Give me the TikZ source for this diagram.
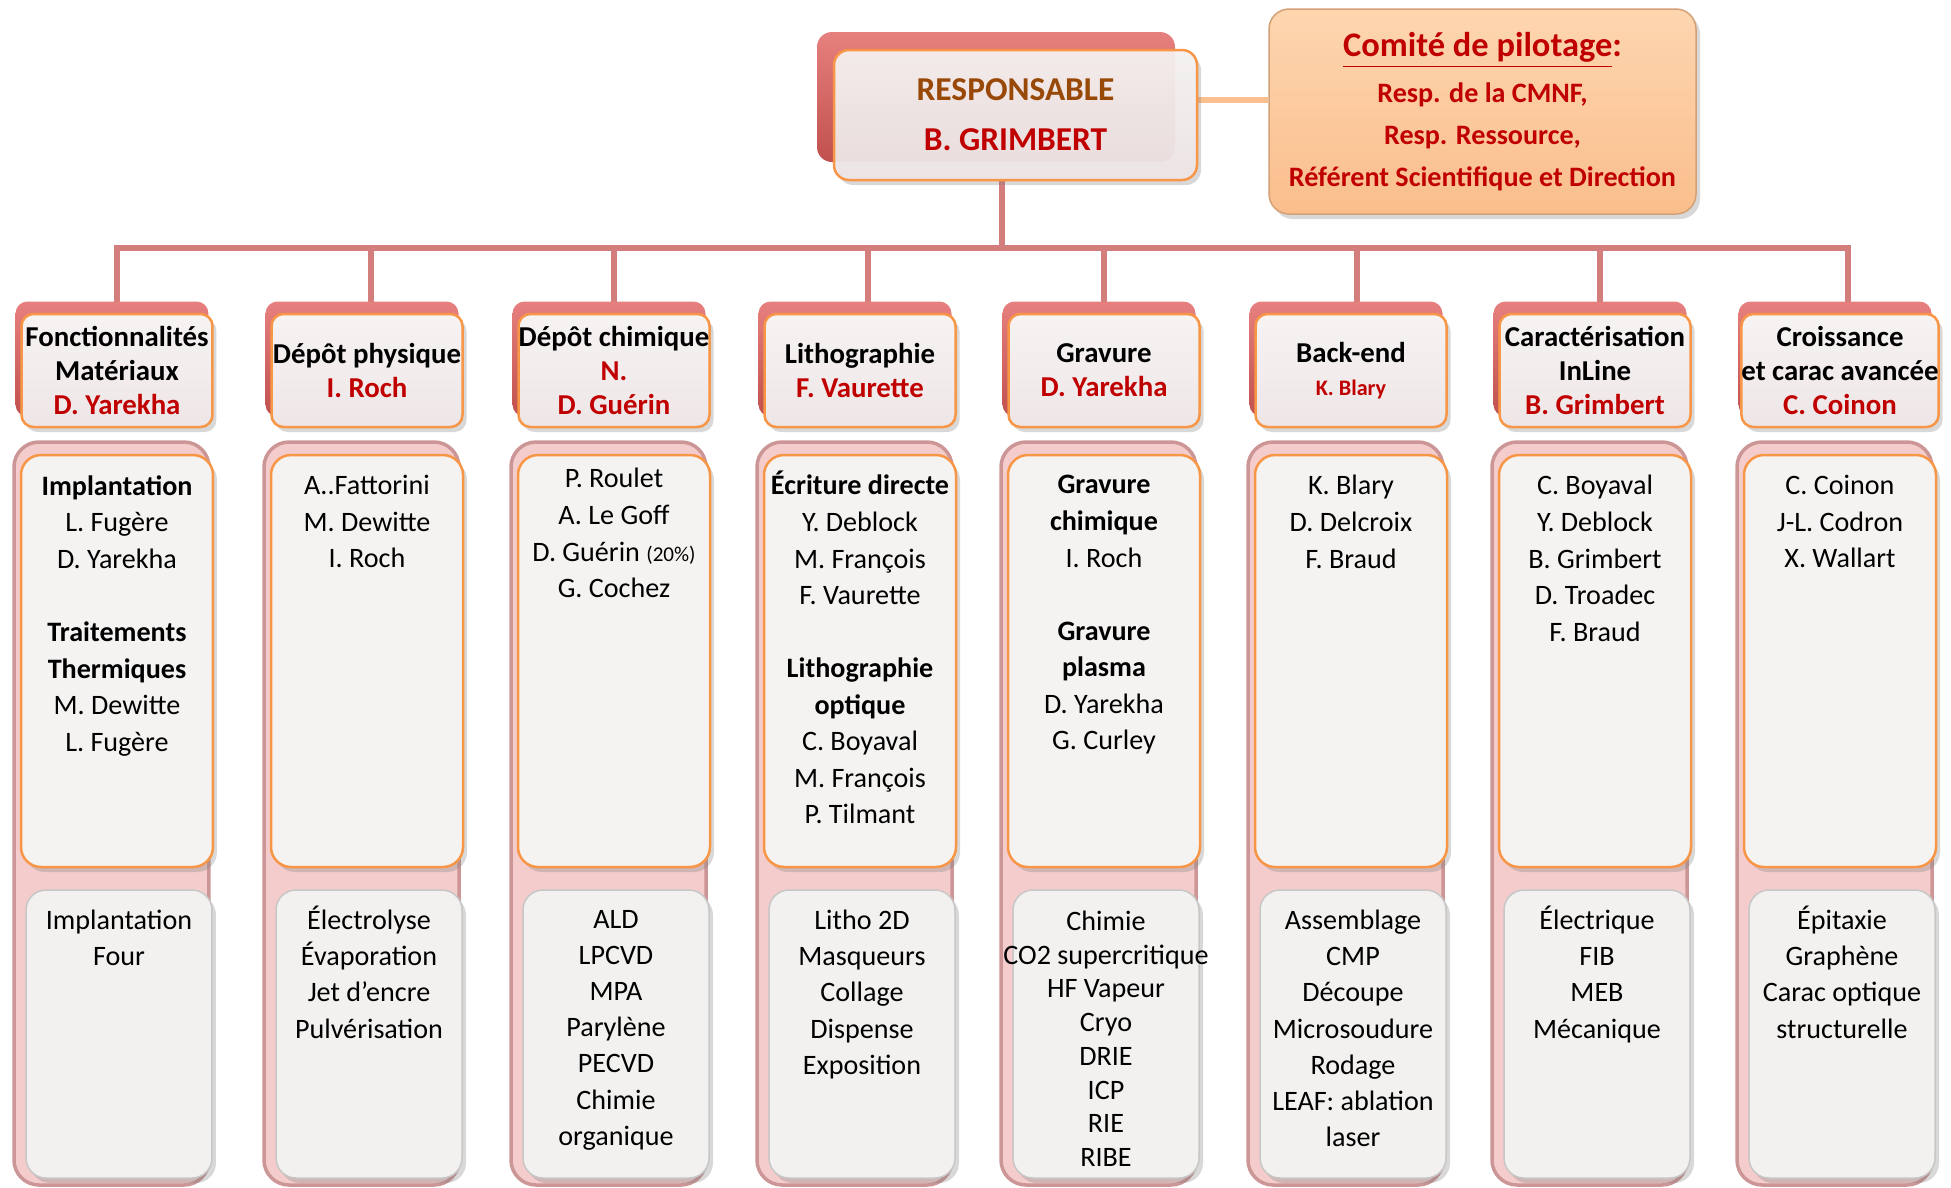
\documentclass[tikz,border=0pt]{standalone}
\usepackage{fontspec}
\setmainfont{Carlito}
\usetikzlibrary{positioning,shadows,backgrounds}
\definecolor{nred}{RGB}{192,0,0}
\definecolor{nbrown}{RGB}{152,72,7}
\definecolor{lnk}{RGB}{212,125,125}
\definecolor{orng}{RGB}{247,150,70}
\definecolor{pilot}{RGB}{250,192,143}
\definecolor{redbox}{RGB}{192,80,77}
\definecolor{redtop}{RGB}{230,128,126}
\definecolor{boxtop}{RGB}{247,243,243}
\definecolor{boxbot}{RGB}{238,230,230}
\definecolor{pnk}{RGB}{244,204,204}
\definecolor{pnkdark}{RGB}{205,150,150}
\definecolor{midfill}{RGB}{245,243,242}
\definecolor{botfill}{RGB}{242,241,240}
\definecolor{comtop}{RGB}{253,214,176}
\definecolor{combot}{RGB}{250,190,140}
\newcommand{\redname}[1]{\textcolor{nred}{#1}}
\newcommand{\accline}[1]{\smash{#1}\vphantom{Il}}
\begin{document}
\begin{tikzpicture}[x=0.1mm,y=-0.1mm,line join=round,
 link/.style={draw=lnk,line width=0.55mm},
 pilotline/.style={draw=pilot,line width=0.65mm},
 shd/.style={drop shadow={shadow xshift=0.4mm,shadow yshift=-0.5mm,opacity=0.3}},
 hback/.style={rounded corners=1.2mm,top color=redtop,bottom color=redbox,minimum width=19.3mm,minimum height=11.5mm,inner sep=0pt},
 hfront/.style={shd,rounded corners=1.2mm,top color=boxtop,bottom color=boxbot,draw=orng,line width=0.25mm,minimum width=19.1mm,minimum height=11.3mm,inner sep=0pt,align=center,font=\fontsize{8.2}{9.6}\selectfont\bfseries},
 pnl/.style={rounded corners=2.5mm,fill=pnk,draw=pnkdark,line width=0.35mm,minimum width=19.5mm,minimum height=74.3mm,inner sep=0pt},
 mbox/.style={shd,rounded corners=2mm,fill=midfill,draw=orng,line width=0.25mm,minimum width=19.2mm,minimum height=41.2mm,inner sep=0pt},
 mtxt/.style={align=center,inner sep=0pt,font=\fontsize{8}{10.4}\selectfont,execute at begin node=\strut},
 bbox/.style={shd,rounded corners=2mm,fill=botfill,draw=black!22,line width=0.15mm,minimum width=18.6mm,minimum height=28.8mm,inner sep=0pt},
 btxt/.style={align=center,inner sep=0pt,font=\fontsize{8}{10.3}\selectfont,execute at begin node=\strut},
 respback/.style={rounded corners=1.5mm,top color=redtop,bottom color=redbox,minimum width=35.8mm,minimum height=13mm,inner sep=0pt},
 respfront/.style={shd,rounded corners=1.5mm,top color=boxtop,bottom color=boxbot,fill opacity=0.93,text opacity=1,draw=orng,line width=0.25mm,minimum width=36.3mm,minimum height=13mm,inner sep=0pt,align=center,font=\fontsize{9.5}{14.2}\selectfont\bfseries},
 pilotbox/.style={shd,rounded corners=2mm,top color=comtop,bottom color=combot,draw=combot!85!black,line width=0.15mm,minimum width=42.7mm,minimum height=20.5mm,inner sep=0pt,align=center,text=nred,font=\fontsize{8}{12}\selectfont\bfseries}]
\useasboundingbox(0,0)rectangle(1951,1187);
\node[respback](rb)at(996,97){};
\node[respfront](resp)at(1015.5,115){\textcolor{nbrown}{RESPONSABLE}\\\redname{B. GRIMBERT}};
\node[pilotbox](com)at(1482.5,111.5){{\fontsize{9.8}{12}\selectfont\underline{Comité de pilotage}:}\\[1.2pt]Resp. de la CMNF,\\Resp. Ressource,\\Référent Scientifique et Direction};
\node[pnl](p1)at(111.5,813.5){};
\node[hback](hb1)at(112,359){};
\node[hfront](h1)at(117,370.5){Fonctionnalités\\Matériaux\\\redname{D. Yarekha}};
\node[mbox](m1)at(117,661){};
\node[mtxt,below=2.1mm of m1.north](mt1){\textbf{Implantation}\\L. Fugère\\D. Yarekha\\~\\\textbf{Traitements}\\\textbf{Thermiques}\\M. Dewitte\\L. Fugère};
\node[bbox](bb1)at(119,1034){};
\node[btxt,below=2mm of bb1.north](bt1){Implantation\\Four};
\node[pnl](p2)at(361.5,813.5){};
\node[hback](hb2)at(362,359){};
\node[hfront](h2)at(367,370.5){Dépôt physique\\\redname{I. Roch}};
\node[mbox](m2)at(367,661){};
\node[mtxt,below=2.1mm of m2.north](mt2){A..Fattorini\\M. Dewitte\\I. Roch};
\node[bbox](bb2)at(369,1034){};
\node[btxt,below=2mm of bb2.north](bt2){\accline{Électrolyse}\\Évaporation\\Jet d’encre\\Pulvérisation};
\node[pnl](p3)at(608.5,813.5){};
\node[hback](hb3)at(609,359){};
\node[hfront](h3)at(614,370.5){Dépôt chimique\\\redname{N.}\\\redname{D. Guérin}};
\node[mbox](m3)at(614,661){};
\node[mtxt,below=1.4mm of m3.north](mt3){P. Roulet\\A. Le Goff\\D. Guérin {\fontsize{6}{7}\selectfont(20\%)}\\G. Cochez};
\node[bbox](bb3)at(616,1034){};
\node[btxt,below=2mm of bb3.north](bt3){ALD\\LPCVD\\MPA\\Parylène\\PECVD\\Chimie\\organique};
\node[pnl](p4)at(854.5,813.5){};
\node[hback](hb4)at(855,359){};
\node[hfront](h4)at(860,370.5){Lithographie\\\redname{F. Vaurette}};
\node[mbox](m4)at(860,661){};
\node[mtxt,below=2.1mm of m4.north](mt4){\accline{\textbf{Écriture directe}}\\Y. Deblock\\M. François\\F. Vaurette\\~\\\textbf{Lithographie}\\\textbf{optique}\\C. Boyaval\\M. François\\P. Tilmant};
\node[bbox](bb4)at(862,1034){};
\node[btxt,below=2mm of bb4.north](bt4){Litho 2D\\Masqueurs\\Collage\\Dispense\\Exposition};
\node[pnl](p5)at(1098.5,813.5){};
\node[hback](hb5)at(1099,359){};
\node[hfront](h5)at(1104,370.5){Gravure\\\redname{D. Yarekha}};
\node[mbox](m5)at(1104,661){};
\node[mtxt,below=2.1mm of m5.north](mt5){\textbf{Gravure}\\\textbf{chimique}\\I. Roch\\~\\\textbf{Gravure}\\\textbf{plasma}\\D. Yarekha\\G. Curley};
\node[bbox](bb5)at(1106,1034){};
\node[btxt,font=\fontsize{8}{9.6}\selectfont,below=2.1mm of bb5.north](bt5){Chimie\\CO2 supercritique\\HF Vapeur\\Cryo\\DRIE\\ICP\\RIE\\RIBE};
\node[pnl](p6)at(1345.5,813.5){};
\node[hback](hb6)at(1346,359){};
\node[hfront](h6)at(1351,370.5){Back-end\\{\fontsize{6.3}{8}\selectfont\redname{K. Blary}}};
\node[mbox](m6)at(1351,661){};
\node[mtxt,below=2.1mm of m6.north](mt6){K. Blary\\D. Delcroix\\F. Braud};
\node[bbox](bb6)at(1353,1034){};
\node[btxt,below=2mm of bb6.north](bt6){Assemblage\\CMP\\Découpe\\Microsoudure\\Rodage\\LEAF: ablation\\laser};
\node[pnl](p7)at(1589.5,813.5){};
\node[hback](hb7)at(1590,359){};
\node[hfront](h7)at(1595,370.5){Caractérisation\\InLine\\\redname{B. Grimbert}};
\node[mbox](m7)at(1595,661){};
\node[mtxt,below=2.1mm of m7.north](mt7){C. Boyaval\\Y. Deblock\\B. Grimbert\\D. Troadec\\F. Braud};
\node[bbox](bb7)at(1597,1034){};
\node[btxt,below=2mm of bb7.north](bt7){\accline{Électrique}\\FIB\\MEB\\Mécanique};
\node[pnl](p8)at(1834.5,813.5){};
\node[hback](hb8)at(1835,359){};
\node[hfront](h8)at(1840,370.5){Croissance\\et carac avancée\\\redname{C. Coinon}};
\node[mbox](m8)at(1840,661){};
\node[mtxt,below=2.1mm of m8.north](mt8){C. Coinon\\J-L. Codron\\X. Wallart};
\node[bbox](bb8)at(1842,1034){};
\node[btxt,below=2mm of bb8.north](bt8){\accline{Épitaxie}\\Graphène\\Carac optique\\structurelle};
\begin{scope}[on background layer]
\fill[white](0,0)rectangle(1951,1187);
\coordinate(top)at(1002,248);
\draw[link](top |- resp.south)--(top);
\draw[link](h1.north)|-(top);
\draw[link]([xshift=0.4mm]h2.north)|-(top);
\draw[link](h3.north)|-(top);
\draw[link]([xshift=0.8mm]h4.north)|-(top);
\draw[link](h5.north)|-(top);
\draw[link]([xshift=0.6mm]h6.north)|-(top);
\draw[link]([xshift=0.5mm]h7.north)|-(top);
\draw[link]([xshift=0.8mm]h8.north)|-(top);
\coordinate(pl)at([yshift=1.5mm]resp.east);
\draw[pilotline](pl)--(pl -| com.west);
\end{scope}
\end{tikzpicture}
\end{document}
